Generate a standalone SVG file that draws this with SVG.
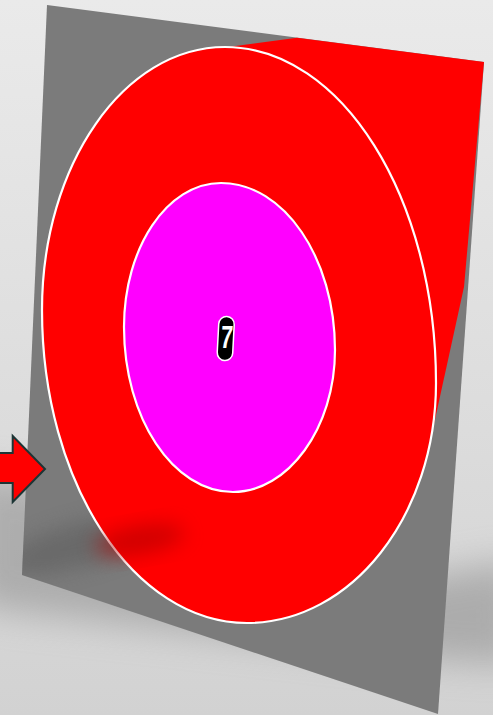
<svg xmlns="http://www.w3.org/2000/svg" width="493" height="715" viewBox="0 0 493 715">
<defs>
<linearGradient id="bg" x1="0" y1="0" x2="0" y2="1">
<stop offset="0" stop-color="#eaeaea"/>
<stop offset="0.6" stop-color="#dcdcdc"/>
<stop offset="1" stop-color="#d2d2d2"/>
</linearGradient>
<filter id="blur20" x="-50%" y="-50%" width="200%" height="200%"><feGaussianBlur stdDeviation="18"/></filter>
<filter id="blur10" x="-50%" y="-50%" width="200%" height="200%"><feGaussianBlur stdDeviation="10"/></filter>
<clipPath id="planeClip"><polygon points="47,5 484,62 438,714 22,575"/></clipPath>
<style>
.ring{stroke:#ffffff;stroke-width:2.2}
.red{fill:#ff0000}
</style>
</defs>
<rect width="493" height="715" fill="url(#bg)"/>
<!-- floor shadow -->
<g id="floor-shadow" filter="url(#blur20)" opacity="0.55">
<polygon points="-30,470 30,480 300,600 520,560 520,665 440,660 0,610 -30,600" fill="#8a8a8a"/>
</g>
<!-- plane -->
<g id="plane">
<polygon points="47,5 484,62 438,714 22,575" fill="#7b7b7b"/>
<g clip-path="url(#planeClip)">
<ellipse cx="80" cy="545" rx="80" ry="22" transform="rotate(-15 80 545)" fill="#5e5e5e" opacity="0.6" filter="url(#blur10)"/>
</g>
</g>
<!-- red target -->
<g id="target">
<polygon class="red" points="230,100 228,47 297,37.7 484,62 464,287 425,465 300,400"/>
<path class="red ring" d="M42,310 C42,164.7 124,47 225,47 C341.5,47 436,197.4 436,383 C436,515.6 351.4,623 247,623 C133.8,623 42,482.9 42,310 Z"/>
<g clip-path="url(#planeClip)">
<ellipse cx="140" cy="540" rx="45" ry="14" transform="rotate(-10 140 540)" fill="#b00000" opacity="0.6" filter="url(#blur10)"/>
</g>
</g>
<g id="inner">
<path fill="#ff00ff" class="ring" d="M124,327 C124,248 167,183 221,183 C284,183 335,258 335,350 C335,428 288,492 233,492 C173,492 124,418 124,327 Z"/>
</g>
<g id="label">
<rect x="218" y="316.5" width="15.5" height="44" rx="7.75" fill="#000000" stroke="#ffffff" stroke-width="1.5" transform="rotate(3 226 338)"/>
<text x="0" y="0" transform="translate(226,347.5) scale(0.68,1) skewX(-6)" text-anchor="middle" font-family="Liberation Sans, Arial, sans-serif" font-weight="bold" font-size="32" fill="#ffffff">7</text>
</g>
<g id="connectors">
<polygon points="-5,453 12.7,453 12.7,436 45,469 12.7,502 12.7,483 -5,483" fill="#ff0000" stroke="#1c3535" stroke-width="2" stroke-linejoin="miter"/>
</g>
</svg>
